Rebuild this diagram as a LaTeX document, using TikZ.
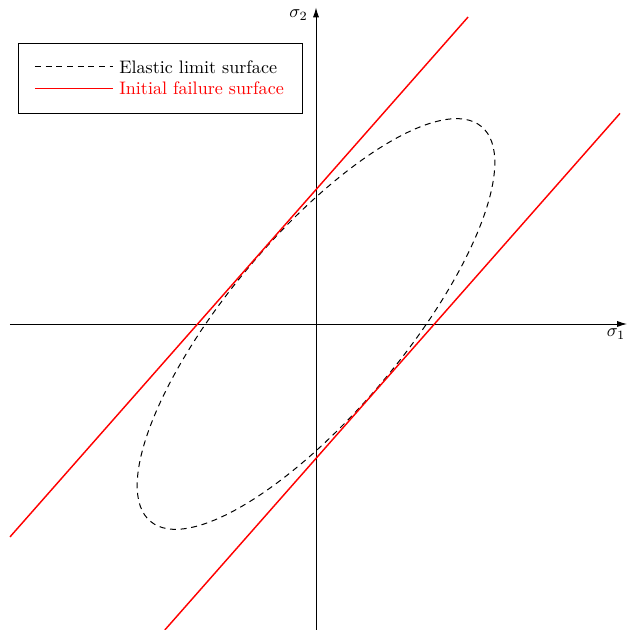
\documentclass[tikz,border=0pt]{standalone}
\usetikzlibrary{arrows.meta}
\begin{document}
\begin{tikzpicture}[x=0.553pt,y=0.553pt,
  axis/.style={line width=0.5pt, black, -{Latex[length=5.5pt,width=3.4pt]}},
  elastic/.style={black, line width=0.55pt, dash pattern=on 3.3pt off 2.6pt},
  failure/.style={red, line width=0.8pt},
  lbl/.style={inner sep=0pt, font=\normalsize},
  legtext/.style={anchor=west, inner sep=0pt}]
\useasboundingbox (-316,-306) rectangle (311,324);
\coordinate (O) at (0,0);
% axes
\coordinate (xs) at (-306,0);
\coordinate (xe) at (311,0);
\coordinate (ys) at (0,-306);
\coordinate (ye) at (0,316.5);
\draw[axis] (xs) -- (xe);
\draw[axis] (ys) -- (ye);
\node[lbl] (s1) at (300,-10) {$\sigma_1$};
\node[lbl] (s2) at (-17.5,309) {$\sigma_2$};
% elastic limit ellipse
\draw[elastic, rotate=50] (O) ellipse [x radius=257.6, y radius=88];
% failure lines
\coordinate (f1a) at (-306,-212.9);
\coordinate (f1b) at (152.1,307);
\coordinate (f2a) at (-151.2,-306);
\coordinate (f2b) at (304,210.6);
\draw[failure] (f1a) -- (f1b);
\draw[failure] (f2a) -- (f2b);
% legend
\coordinate (la) at (-297.7,280.7);
\coordinate (lb) at (-13.7,210.7);
\draw[black, line width=0.5pt, fill=white] (la) rectangle (lb);
\coordinate (e1) at (-281,257);
\coordinate (e2) at (-203,257);
\coordinate (r1) at (-281,235.3);
\coordinate (r2) at (-203,235.3);
\draw[elastic] (e1) -- (e2);
\draw[failure] (r1) -- (r2);
\node[legtext] (te) at (-197,257) {Elastic limit surface};
\node[legtext, text=red] (tr) at (-197,235.3) {Initial failure surface};
\end{tikzpicture}
\end{document}
